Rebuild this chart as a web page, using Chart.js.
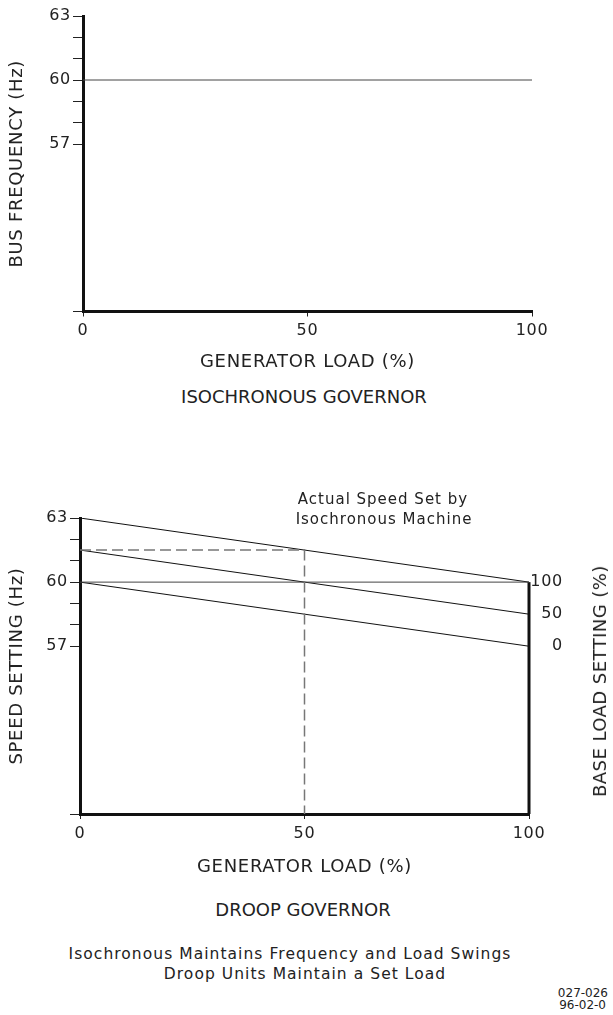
<!DOCTYPE html>
<html>
<head>
<meta charset="utf-8">
<script src="https://cdn.jsdelivr.net/npm/chart.js@4"></script>
<style>
  html, body { margin: 0; padding: 0; background: #fff; }
  body { width: 613px; height: 1015px; position: relative; overflow: hidden;
         font-family: "DejaVu Sans", sans-serif; color: #222; }
  .box { position: absolute; left: 0; width: 613px; }
  .txt { position: absolute; white-space: nowrap; transform: translate(-50%, -50%); line-height: 1; }
  .rt { position: absolute; white-space: nowrap; transform: translate(-100%, -50%); line-height: 1; }
</style>
</head>
<body>

<div class="box" style="top:0;height:380px"><canvas id="isoChart"></canvas></div>
<div class="box" style="top:460px;height:425px"><canvas id="droopChart"></canvas></div>

<div class="txt" style="left:304px;top:397px;font-size:18px">ISOCHRONOUS GOVERNOR</div>
<div class="txt" style="left:383px;top:499px;font-size:15px;letter-spacing:1px">Actual Speed Set by</div>
<div class="txt" style="left:384px;top:519px;font-size:15px;letter-spacing:1px">Isochronous Machine</div>
<div class="txt" style="left:303px;top:910px;font-size:18px">DROOP GOVERNOR</div>
<div class="txt" style="left:290px;top:955px;font-size:15.5px;letter-spacing:1.05px">Isochronous Maintains Frequency and Load Swings</div>
<div class="txt" style="left:305px;top:975px;font-size:15.5px;letter-spacing:1.05px">Droop Units Maintain a Set Load</div>
<div class="rt" style="left:608px;top:993px;font-size:12px">027-026</div>
<div class="rt" style="left:606px;top:1005px;font-size:12px">96-02-0</div>
<div class="txt" style="left:600px;top:681px;font-size:18px;letter-spacing:0.45px;transform:translate(-50%,-50%) rotate(-90deg)">BASE LOAD SETTING (%)</div>

<script>
// ===== Governor response charts =====

// axes
const loadTicks = [0, 50, 100];           // generator load (%)
const freqLabelled = [57, 60, 63];        // Hz values that carry a label
const freqMinor = [58, 59, 61, 62];       // unlabelled ticks
const freqBottom = 49.15;                 // broken-axis bottom (no label)
const freqTop = 63;

// isochronous governor: flat at 60 Hz
const loadPct = [0, 100];
const isoFreq = [60, 60];

// droop governor: speed setting lines per base load setting
const baseLoadSettings = [100, 50, 0];
const droopStart = [63, 61.5, 60];        // at 0 % load
const droopEnd = [60, 58.5, 57];          // at 100 % load

// dashed guide: actual speed set by the isochronous machine
const guideX = [0, 50, 50];
const guideY = [61.5, 61.5, freqBottom];

// right-hand edge of droop chart, from bottom up to 60 Hz
const edgeX = [100, 100];
const edgeY = [freqBottom, 60];

const INK = '#222';
const FONT = 'DejaVu Sans';

// wider CAD-style lettering on the canvas text
const spacing = {
  id: 'spacing',
  beforeDraw(chart) { chart.ctx.letterSpacing = '0.7px'; }
};

function pts(xs, ys) {
  return xs.map((x, i) => ({ x, y: ys[i] }));
}

function thin(data, extra) {
  return Object.assign({
    data, borderColor: '#111', borderWidth: 1, pointRadius: 0, fill: false, tension: 0
  }, extra || {});
}

function freqAxis(title, width, titlePad) {
  return {
    type: 'linear', position: 'left', min: freqBottom, max: freqTop,
    afterBuildTicks: s => { s.ticks = [freqBottom, ...freqLabelled, ...freqMinor].sort((a, b) => a - b).map(v => ({ value: v })); },
    afterFit: s => { s.width = width; },
    ticks: {
      color: INK, font: { family: FONT, size: 16 }, padding: 2,
      callback: v => freqLabelled.includes(v) ? String(v) : ''
    },
    grid: { display: true, drawOnChartArea: false, drawTicks: true, tickLength: 10, color: INK, lineWidth: 1 },
    border: { display: true, width: 3, color: '#111' },
    title: { display: true, text: title, color: INK, font: { family: FONT, size: 18 }, padding: { top: titlePad, bottom: 0 } }
  };
}

function loadAxis(height) {
  return {
    type: 'linear', position: 'bottom', min: 0, max: 100,
    afterBuildTicks: s => { s.ticks = loadTicks.map(v => ({ value: v })); },
    afterFit: s => { s.height = height; },
    ticks: { color: INK, font: { family: FONT, size: 16 }, padding: 5, maxRotation: 0 },
    grid: { display: true, drawOnChartArea: false, drawTicks: true, tickLength: 5, color: INK, lineWidth: 1 },
    border: { display: true, width: 3, color: '#111' },
    title: { display: true, text: 'GENERATOR LOAD (%)', color: INK, font: { family: FONT, size: 18 }, padding: { top: 0, bottom: 6.5 } }
  };
}

const common = {
  responsive: true,
  maintainAspectRatio: false,
  animation: false,
  plugins: { legend: { display: false }, tooltip: { enabled: false } }
};

new Chart(document.getElementById('isoChart'), {
  type: 'line',
  data: {
    datasets: [thin(pts(loadPct, isoFreq), { borderColor: '#444' })]
  },
  options: Object.assign({}, common, {
    layout: { padding: { top: 16, left: 0, right: 81, bottom: 0 } },
    scales: {
      x: loadAxis(68.5),
      y: freqAxis('BUS FREQUENCY (Hz)', 83, 7)
    }
  }),
  plugins: [spacing]
});

const droopSets = baseLoadSettings.map((b, i) =>
  thin(pts(loadPct, [droopStart[i], droopEnd[i]]), { label: b + ' %' }));

new Chart(document.getElementById('droopChart'), {
  type: 'line',
  data: {
    datasets: [
      thin(pts(guideX, guideY), { borderColor: '#777', borderWidth: 1.5, borderDash: [11, 5] }),
      thin(pts(loadPct, isoFreq), { borderColor: '#444' }),
      ...droopSets,
      thin(pts(edgeX, edgeY), { borderColor: '#111', borderWidth: 3, clip: false })
    ]
  },
  options: Object.assign({}, common, {
    layout: { padding: { top: 58, left: 0, right: 50, bottom: 0 } },
    scales: {
      x: loadAxis(71),
      y: freqAxis('SPEED SETTING (Hz)', 80, 7),
      y2: {
        type: 'linear', position: 'right', min: freqBottom, max: freqTop,
        afterBuildTicks: s => { s.ticks = droopEnd.map(v => ({ value: v })); },
        afterFit: s => { s.width = 34; },
        ticks: {
          color: INK, font: { family: FONT, size: 16 }, padding: 0, crossAlign: 'far',
          callback: v => { const i = droopEnd.indexOf(v); return i >= 0 ? String(baseLoadSettings[i]) : ''; }
        },
        grid: { display: false, drawTicks: false },
        border: { display: false }
      }
    }
  }),
  plugins: [spacing]
});
</script>
</body>
</html>
